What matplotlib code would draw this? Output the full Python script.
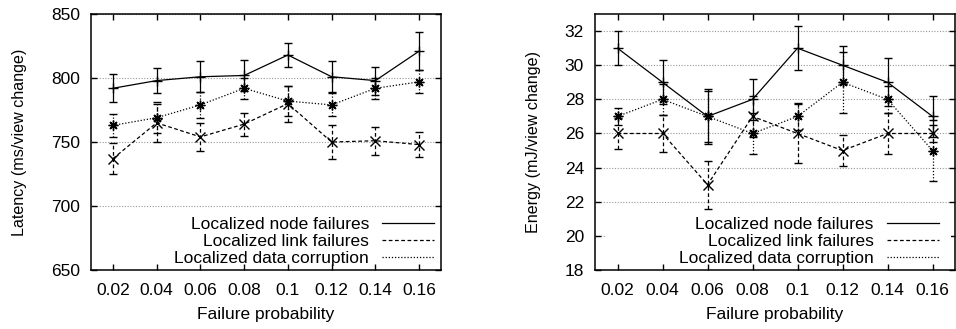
import numpy as np
import matplotlib
matplotlib.use('Agg')
import matplotlib.pyplot as plt
from matplotlib.lines import Line2D
from matplotlib.patches import Rectangle

plt.rcParams['font.family'] = ['Liberation Sans', 'DejaVu Sans']
plt.rcParams['font.size'] = 12.5

prob = [0.02, 0.04, 0.06, 0.08, 0.1, 0.12, 0.14, 0.16]
prob_labels = ['0.02', '0.04', '0.06', '0.08', '0.1', '0.12', '0.14', '0.16']
names = ['Localized node failures', 'Localized link failures', 'Localized data corruption']

# latency (ms/view change)
lat_node = [792, 798, 801, 802, 818, 801, 798, 821]
lat_node_err = [11, 10, 12, 12, 9, 12, 11, 15]
lat_link = [737, 765, 754, 764, 780, 750, 751, 748]
lat_link_err = [12, 15, 11, 9, 14, 13, 11, 10]
lat_corr = [763, 769, 779, 792, 782, 779, 792, 797]
lat_corr_err = [9, 12, 10, 8, 12, 9, 8, 9]

# energy (mJ/view change)
en_node = [31, 29, 27, 28, 31, 30, 29, 27]
en_node_err = [1.0, 1.3, 1.6, 1.2, 1.3, 1.1, 1.4, 1.2]
en_link = [26, 26, 23, 27, 26, 25, 26, 26]
en_link_err = [0.9, 1.1, 1.4, 1.2, 1.7, 0.9, 1.2, 0.5]
en_corr = [27, 28, 27, 26, 27, 29, 28, 25]
en_corr_err = [0.5, 0.9, 1.5, 1.2, 0.8, 1.8, 0.8, 1.8]

linestyles = ['-', (0, (3, 2)), (0, (1, 1.5))]
markers = ['+', 'x', (8, 2, 0)]


def draw(ax, series, ylim, yticks, ylabel, legx):
    for (y, e), ls, mk in zip(series, linestyles, markers):
        eb = ax.errorbar(prob, y, yerr=e, color='black', lw=0.9, ls=ls,
                         marker=mk, ms=7, mew=1, capsize=3, capthick=0.9,
                         elinewidth=0.9)
        eb[2][0].set_linestyle(ls)
    ax.set_xlim(0.01, 0.17)
    ax.set_ylim(*ylim)
    ax.set_xticks(prob)
    ax.set_xticklabels(prob_labels)
    ax.set_yticks(yticks)
    ax.yaxis.grid(True, color='#999999', lw=0.8, ls=(0, (1, 1.5)))
    ax.set_axisbelow(True)
    ax.tick_params(direction='in', top=True, right=True, length=4, width=1)
    ax.tick_params(axis='x', pad=9)
    ax.tick_params(axis='y', pad=8)
    for s in ax.spines.values():
        s.set_linewidth(1.1)
    ax.set_xlabel('Failure probability', labelpad=7)
    ax.set_ylabel(ylabel, labelpad=17, fontsize=11.6)
    # white key box like gnuplot
    ax.add_patch(Rectangle((0.028, 0.03), 0.96, 0.19, transform=ax.transAxes,
                           facecolor='white', edgecolor='none', zorder=0.6))
    handles = [Line2D([], [], color='black', lw=0.9, ls=ls) for ls in linestyles]
    ax.legend(handles, names, loc='lower right', bbox_to_anchor=(legx, 0.008),
              markerfirst=False, handlelength=3.0, handletextpad=0.75,
              borderpad=0.1, borderaxespad=0, labelspacing=0.12,
              frameon=False)


fig = plt.figure(figsize=(9.56, 3.29), dpi=100)
ax1 = fig.add_axes([0.0952, 0.1793, 0.3661, 0.778])
ax2 = fig.add_axes([0.6224, 0.1793, 0.3766, 0.778])

draw(ax1, [(lat_node, lat_node_err), (lat_link, lat_link_err), (lat_corr, lat_corr_err)],
     (650, 850), [650, 700, 750, 800, 850], 'Latency (ms/view change)', 0.985)
draw(ax2, [(en_node, en_node_err), (en_link, en_link_err), (en_corr, en_corr_err)],
     (18, 33), [18, 20, 22, 24, 26, 28, 30, 32], 'Energy (mJ/view change)', 0.96)

fig.savefig('out.png', dpi=100)
